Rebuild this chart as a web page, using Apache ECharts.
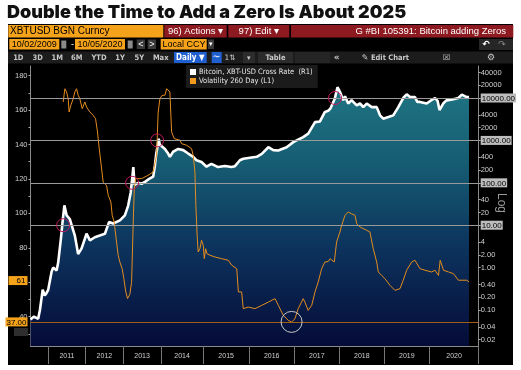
<!DOCTYPE html>
<html><head><meta charset="utf-8">
<script src="https://cdn.jsdelivr.net/npm/echarts@6/dist/echarts.min.js"></script>
<style>html,body{margin:0;padding:0;background:#fff}#c{width:521px;height:370px}</style>
</head><body><div id="c"></div>
<script>
// ---- data ----
const btcName = 'Bitcoin, XBT-USD Cross Rate  (R1)';
const volName = 'Volatility 260 Day (L1)';
// observations per calendar year in the terminal's series (drives x spacing)
const obsYears   = [2010,2011,2012,2013,2014,2015,2016,2017,2018,2019,2020];
const obsPerYear = [303, 303, 305, 306, 343, 371, 367, 365, 365, 365, 423];
const axisStart = '2010-07-12', axisEnd = '2020-12-12';
const yearLabels = ['2011','2012','2013','2014','2015','2016','2017','2018','2019','2020'];

const btcDates = ['2010-07-12','2010-08-15','2010-09-25','2010-10-12','2010-11-08','2010-11-28','2010-12-15',
 '2011-01-01','2011-02-03','2011-02-18','2011-03-24','2011-04-08','2011-05-05','2011-05-21','2011-06-08','2011-06-30','2011-07-31','2011-09-18','2011-10-20','2011-11-22','2011-12-25',
 '2012-01-10','2012-02-12','2012-03-31','2012-05-18','2012-07-07','2012-08-17','2012-09-25','2012-11-30',
 '2013-01-17','2013-02-18','2013-03-15','2013-04-09','2013-04-20','2013-05-26','2013-06-28','2013-07-30','2013-08-31','2013-10-18','2013-11-03','2013-11-17','2013-11-28','2013-12-10','2013-12-20',
 '2014-01-06','2014-02-04','2014-03-04','2014-03-19','2014-04-16','2014-05-30','2014-07-12','2014-08-24','2014-10-07','2014-11-04','2014-12-17',
 '2015-01-27','2015-03-07','2015-04-29','2015-06-22','2015-08-15','2015-09-09','2015-10-20','2015-11-16',
 '2016-01-08','2016-03-03','2016-04-13','2016-06-05','2016-07-15','2016-08-24','2016-10-31','2016-12-24',
 '2017-01-20','2017-03-14','2017-04-24','2017-06-18','2017-07-28','2017-09-06','2017-10-03','2017-10-20','2017-11-25','2017-12-17',
 '2018-01-06','2018-02-02','2018-02-16','2018-03-14','2018-04-10','2018-05-22','2018-06-18','2018-07-14','2018-08-11','2018-09-21','2018-10-31','2018-11-27','2018-12-23',
 '2019-02-02','2019-03-14','2019-04-23','2019-06-03','2019-07-01','2019-07-28','2019-09-06','2019-09-25','2019-10-17','2019-10-31','2019-12-10',
 '2020-01-17','2020-02-10','2020-02-28','2020-03-12','2020-04-08','2020-04-30','2020-05-14','2020-06-18','2020-07-22','2020-08-16','2020-09-19','2020-10-05'];
const btcValues = [0.06,0.07,0.062,0.10,0.30,0.22,0.25,
 0.30,0.8,1.0,0.85,1.3,4.8,12,29.5,17,14,5.7,2.1,2.8,4.8,
 6.3,4.4,5.2,5.7,6.3,12,11,13,
 17,29,60,235,90,100,95,105,120,140,250,500,700,1100,800,
 830,630,490,410,540,630,590,490,410,340,310,
 240,280,235,250,235,245,340,370,
 390,410,480,690,590,580,690,910,
 1000,1200,1450,2700,2800,4700,5000,5600,9600,18000,
 14000,8800,11000,7400,8900,6700,7500,6100,7400,6100,6100,3900,3250,
 3550,3900,6000,10000,12200,10500,10500,8100,8100,8800,7400,
 9000,10000,8500,5200,7500,8800,9600,9400,10000,12000,10500,10600];

const volDates = ['2011-05-27','2011-06-13','2011-06-29','2011-07-15','2011-07-24','2011-08-10','2011-09-02','2011-09-18','2011-10-05','2011-10-21','2011-11-06','2011-11-29','2011-12-25',
 '2012-01-10','2012-02-12','2012-03-14','2012-04-07','2012-04-26','2012-05-09','2012-05-28','2012-06-20','2012-07-23','2012-08-08','2012-09-03','2012-09-16','2012-10-05','2012-10-28','2012-11-13','2012-11-29','2012-12-22',
 '2013-01-07','2013-01-26','2013-02-12','2013-03-06','2013-03-23','2013-04-08','2013-04-18','2013-05-01','2013-06-28','2013-08-30','2013-10-18','2013-11-20','2013-12-05','2013-12-22',
 '2014-01-11','2014-02-04','2014-02-19','2014-03-04','2014-03-19','2014-04-03','2014-04-26','2014-06-14','2014-06-28','2014-08-10','2014-09-22','2014-10-06','2014-10-21','2014-10-29','2014-11-09','2014-11-18','2014-12-03','2014-12-17',
 '2015-01-01','2015-01-09','2015-01-20','2015-01-30','2015-02-23','2015-04-04','2015-05-28','2015-07-19','2015-08-16','2015-09-25','2015-10-08','2015-11-03','2015-11-16','2015-12-26',
 '2016-02-18','2016-04-13','2016-06-05','2016-07-29','2016-08-25','2016-10-04','2016-11-13','2016-12-10',
 '2017-01-06','2017-02-02','2017-03-14','2017-03-28','2017-04-23','2017-05-22','2017-06-18','2017-07-14','2017-08-11','2017-09-06','2017-10-03','2017-10-17','2017-10-31','2017-11-21','2017-12-10',
 '2018-01-06','2018-01-20','2018-02-16','2018-03-14','2018-04-10','2018-05-08','2018-05-22','2018-06-18','2018-08-11','2018-09-06','2018-10-03','2018-10-31','2018-11-13','2018-12-10',
 '2019-01-06','2019-02-16','2019-03-28','2019-05-08','2019-06-03','2019-07-01','2019-08-11','2019-09-06','2019-10-17','2019-11-27',
 '2020-01-17','2020-02-09','2020-03-05','2020-03-17','2020-03-29','2020-04-09','2020-05-14','2020-06-18','2020-07-23','2020-08-16','2020-09-20','2020-10-05'];
const volValues = [164.7,172.4,170.5,166.6,158.9,162.8,166.6,170.5,172.4,168.6,166.6,160.8,164.7,
 161.8,158.9,157,155,147.3,139.6,129.9,118.2,116.3,110.5,106.6,98.9,95,83.4,75.7,71.8,67.9,
 62.1,54.4,50.5,53,60,95,114.4,120.2,120.2,122.1,124.1,133.8,158.9,166.6,
 168.6,168.6,172.4,173.4,170.5,147.3,143.4,142.5,140.5,139.6,137.6,133.8,124.1,104.7,87.3,77.6,79.5,84.4,
 81.5,73.7,79.5,76.6,75.7,74.7,73.7,72.8,69.9,67.9,54.4,54.4,44.7,45.6,
 44.7,46.6,48.5,50.5,46.6,40.8,37.9,36.9,
 38.8,44.7,50.5,48.5,43.7,46.6,54.4,60.2,67.9,71.8,72,73.7,74.7,71.8,83.4,
 89.2,93.1,98.9,100.8,99.8,98.9,94,92.1,90.2,89.2,79.5,71.8,66,64,
 62.1,58.2,55.3,56.3,61.2,67,71.8,72.8,67.9,67,
 66,67,64,72.8,73.7,67,66,65,61.2,61.2,61.2,60.2];

const leftLabels = [40,60,80,100,120,140,160,180];
const leftMinorTicks = [30,50,70,90,110,130,150,170];
const volLastTag = 61, volRefLevel = 37;
const rightLabels = [0.02,0.04,0.1,0.2,0.4,1,2,4,10,20,40,100,200,400,1000,2000,4000,10000,20000,40000];
const decadeLines = [10,100,1000,10000];
const crossDates = ['2011-05-27','2013-03-28','2013-11-25','2017-11-27'];
const crossValues = [10,100,1000,10000];
const lowDate = '2016-12-10', lowValue = 37;

// ---- calendar -> x ----
const cum = {}; let acc = 0;
obsYears.forEach((y,i)=>{cum[y]=acc; acc+=obsPerYear[i];});
function toX(d){
  const p = d.split('-').map(Number);
  const y=p[0], t=Date.UTC(y,p[1]-1,p[2]), s=Date.UTC(y,0,1), e=Date.UTC(y+1,0,1);
  return cum[y] + (t-s)/(e-s)*obsPerYear[obsYears.indexOf(y)];
}
const xMin = toX(axisStart), xMax = toX(axisEnd);
const yearTicks = yearLabels.map(y=>toX(y+'-01-01')).concat([xMax]);
const yearMids = yearLabels.map((y,i)=>(yearTicks[i]+yearTicks[i+1])/2);

const FONT = '"Liberation Sans Narrow","DejaVu Sans Condensed","Liberation Sans",sans-serif';
const ORANGE = '#f5a21b', RED = '#8e1a21';

// ---- header graphics ----
const G = [];
function rect(x,y,w,h,fill,z){G.push({type:'rect',z:(z===undefined?-10:z),silent:true,shape:{x:x,y:y,width:w,height:h},style:{fill:fill}});}
function txt(x,y,text,o){o=o||{};G.push({type:'text',z:1,silent:true,x:x,y:y,style:{text:text,fill:o.fill||'#fff',
  font:o.font||('10px "Liberation Sans",sans-serif'),textAlign:o.align||'left',align:o.align||'left',textVerticalAlign:'middle',verticalAlign:'middle'},rotation:o.rotation||0});}
rect(8,24,505,341,'#000',-20);
txt(7,12.5,'Double the Time to Add a Zero Is About 2025',{fill:'#111',font:'900 18px Inter, "Open Sans", sans-serif'});
// row 1
rect(8.3,25,155,12.5,ORANGE); txt(10,31.4,'XBTUSD BGN Curncy',{fill:'#000'});
rect(164.3,25,62.4,12.5,RED); txt(195.5,31.4,'96) Actions ▾',{align:'center',font:'9.5px "Liberation Sans",sans-serif'});
rect(228.3,25,61,12.5,RED); txt(258.8,31.4,'97) Edit ▾',{align:'center',font:'9.5px "Liberation Sans",sans-serif'});
rect(291,25,222.3,12.5,RED); txt(506,31.4,'G #BI 105391: Bitcoin adding Zeros',{align:'right',font:'9.5px "Liberation Sans",sans-serif'});
// row 2
const f2 = '9px "Liberation Sans",sans-serif';
rect(9.3,39,50,10.5,ORANGE); txt(34.3,44.4,'10/02/2009',{fill:'#000',align:'center',font:f2});
rect(61.3,40.5,5,8,'#8a8a8a'); txt(71,44.2,'-',{font:f2});
rect(75,39,50,10.5,ORANGE); txt(100,44.4,'10/05/2020',{fill:'#000',align:'center',font:f2});
rect(127.7,40.5,5,8,'#8a8a8a');
rect(136.7,39.5,8.3,9.5,'#3a3a3a'); txt(140.8,44.2,'<',{align:'center',font:f2});
rect(147.7,39.5,8.3,9.5,'#3a3a3a'); txt(151.8,44.2,'>',{align:'center',font:f2});
rect(160.7,39,46,10.5,ORANGE); txt(162.5,44.4,'Local CCY',{fill:'#000',font:f2});
rect(208,39.5,6,9.5,'#3a3a3a'); txt(211,44.2,'▾',{align:'center',font:'7px sans-serif'});
rect(479,39,34,11,'#262626'); txt(486,44.5,'↶',{align:'center',font:'bold 9px "DejaVu Sans"'}); txt(502,44.5,'↷',{align:'center',fill:'#888',font:'9px "DejaVu Sans"'});
// row 3
const f3 = 'bold 7.5px ' + FONT;
rect(8,51.5,505,12,'#1c1c1c');
[['1D',18.3],['3D',37.7],['1M',57.3],['6M',76.7],['YTD',99],['1Y',120],['5Y',139.3],['Max',160.7]].forEach(a=>txt(a[1],57.6,a[0],{align:'center',fill:'#c9c9c9',font:f3}));
rect(174,52,32.7,11,'#1f5fcf',-5); txt(190.3,57.6,'Daily ▼',{align:'center',font:'bold 8px '+FONT});
rect(211.7,52,10,11,'#1f5fcf',-5); txt(216.7,57.6,'〜',{align:'center',font:'7px "DejaVu Sans"'});
txt(230,57.6,'1⇅',{align:'center',fill:'#c9c9c9',font:'7.5px "DejaVu Sans"'});
rect(243,52,12,11,'#2c2c2c',-5); txt(249,57.6,'▾',{align:'center',fill:'#ccc',font:'7px sans-serif'});
rect(258,52,35,11,'#2c2c2c',-5); txt(275.5,57.6,'Table',{align:'center',fill:'#c9c9c9',font:f3});
rect(295,52,35,11,'#252525',-5);
txt(336.7,57.6,'«',{align:'center',fill:'#c9c9c9',font:'bold 9px "DejaVu Sans"'});
txt(365,57.6,'✎',{align:'center',fill:'#c9c9c9',font:'8px "DejaVu Sans"'});
txt(390,57.6,'Edit Chart',{align:'center',fill:'#c9c9c9',font:f3});
txt(446.7,57.6,'☒',{align:'center',fill:'#c9c9c9',font:'8px "DejaVu Sans"'});
txt(491,57.6,'⚙',{align:'center',fill:'#c9c9c9',font:'9px "DejaVu Sans"'});
// misc
txt(501,203,'Log',{align:'center',fill:'#9a9a9a',font:'12px "Liberation Sans",sans-serif',rotation:-Math.PI/2});
rect(14,328,14,8,'#2e2e2e',-5);

// ---- chart ----
const chart = echarts.init(document.getElementById('c'), null, {renderer:'canvas'});
const grad = new echarts.graphic.LinearGradient(0,66,0,346,[
  {offset:0,color:'#217b88'},{offset:0.35,color:'#165c72'},{offset:0.65,color:'#0c335d'},{offset:1,color:'#050b38'}],true);

function fmtRight(v){
  const r = Number(Number(v).toPrecision(3));
  if (decadeLines.indexOf(r) >= 0) return '{tag|' + r.toFixed(2) + '}';
  if (r < 4) return r.toFixed(2);
  return String(r);
}
function fmtLeft(v){
  const r = Math.round(v*100)/100;
  if (r === volLastTag) return '{t61|' + r + '}';
  if (r === volRefLevel) return '{t37|' + r.toFixed(2) + '}';
  return String(r);
}

chart.setOption({
  animation:false,
  backgroundColor:'transparent',
  graphic: G,
  grid:{left:30.5,right:42.3,top:66,bottom:24},
  legend:{left:186,top:65,orient:'vertical',icon:'rect',itemWidth:6,itemHeight:6,itemGap:1,
    padding:[3,5,3,4],backgroundColor:'#1b1b1b',
    textStyle:{color:'#e6e6e6',fontSize:7.5,fontFamily:FONT,padding:[0,0,0,-2]},
    data:[btcName,volName]},
  xAxis:{type:'value',min:xMin,max:xMax,
    axisLine:{show:true,lineStyle:{color:'#8a8a8a',width:1}},
    axisTick:{show:true,customValues:yearTicks,length:18,lineStyle:{color:'#777'}},
    axisLabel:{customValues:yearMids,color:'#cfcfcf',fontSize:7,fontFamily:'"Liberation Sans",sans-serif',margin:7,
      formatter:function(v){const i=yearMids.findIndex(m=>Math.abs(m-v)<0.5);return i>=0?yearLabels[i]:'';}},
    splitLine:{show:false}},
  yAxis:[
    {type:'value',position:'left',min:23,max:185.6,
     axisLine:{show:true,lineStyle:{color:'#8a8a8a'}},
     axisTick:{show:true,customValues:leftLabels.concat(leftMinorTicks),length:2,lineStyle:{color:'#aaa'}},
     axisLabel:{customValues:leftLabels.concat([volLastTag,volRefLevel]),color:'#cfcfcf',fontSize:7.5,margin:3,
       fontFamily:'"Liberation Sans",sans-serif',formatter:fmtLeft,
       rich:{t61:{backgroundColor:ORANGE,color:'#000',fontSize:8,width:17,align:'right',padding:[1,2,0,0]},
             t37:{backgroundColor:ORANGE,color:'#000',fontSize:8,padding:[1,1,0,1]}}},
     splitLine:{show:false}},
    {type:'log',position:'right',min:0.01416,max:56900,logBase:10,
     axisLine:{show:true,lineStyle:{color:'#8a8a8a'}},
     axisTick:{show:true,customValues:rightLabels,length:2,lineStyle:{color:'#aaa'}},
     axisLabel:{customValues:rightLabels,color:'#cfcfcf',fontSize:7.5,margin:2,
       fontFamily:'"Liberation Sans",sans-serif',formatter:fmtRight,
       rich:{tag:{backgroundColor:'#bdbdbd',color:'#000',fontSize:8,padding:[1,1,0,1]}}},
     splitLine:{show:false}}
  ],
  series:[
    {name:btcName,type:'line',yAxisIndex:1,showSymbol:false,symbol:'none',z:2,
     data:btcDates.map((d,i)=>[toX(d),btcValues[i]]),
     lineStyle:{color:'#ffffff',width:2.6},itemStyle:{color:'#ffffff'},
     areaStyle:{origin:'start',color:grad,opacity:1},
     markLine:{silent:true,symbol:['none','none'],label:{show:false},lineStyle:{color:'#9a9a9a',width:1,type:'solid'},
       data:decadeLines.map(v=>({yAxis:v}))},
     markPoint:{symbol:'circle',symbolSize:13,silent:true,label:{show:false},
       itemStyle:{color:'rgba(0,0,0,0)',borderColor:'#c2185b',borderWidth:1},
       data:crossDates.map((d,i)=>({coord:[toX(d),crossValues[i]]}))}},
    {name:volName,type:'line',yAxisIndex:0,showSymbol:false,symbol:'none',z:3,
     data:volDates.map((d,i)=>[toX(d),volValues[i]]),
     lineStyle:{color:'#e48c1d',width:1},itemStyle:{color:'#f29a1f'},
     markLine:{silent:true,symbol:['none','none'],label:{show:false},lineStyle:{color:'#a35d17',width:1,type:'solid'},
       data:[{yAxis:volRefLevel}]},
     markPoint:{symbol:'circle',symbolSize:21,silent:true,label:{show:false},
       itemStyle:{color:'rgba(0,0,0,0)',borderColor:'#c8c8c8',borderWidth:1},
       data:[{coord:[toX(lowDate),lowValue]}]}}
  ]
});
</script></body></html>
